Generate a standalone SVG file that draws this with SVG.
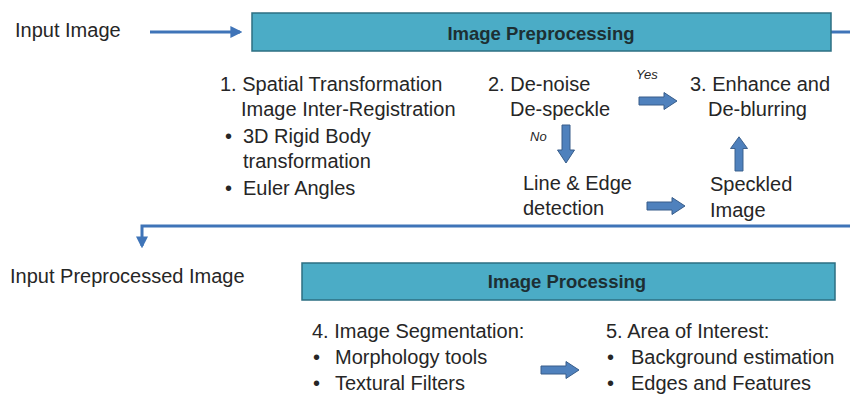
<svg xmlns="http://www.w3.org/2000/svg" width="850" height="398" viewBox="0 0 850 398">
  <defs>
    <style>
      text { font-family: "Liberation Sans", "DejaVu Sans", sans-serif; fill: #262626; }
      .lbl { font-size: 20px; }
      .title { font-size: 18.5px; font-weight: bold; fill: #1d2f33; }
      .small { font-size: 13px; font-style: italic; }
      .stage { fill: #4bacc6; stroke: #2c6f82; stroke-width: 1.5; }
      .flow { fill: none; stroke: #3f74b8; stroke-width: 3; }
      .block { fill: #4f81bd; stroke: #385d8a; stroke-width: 1; }
    </style>
    <marker id="head" viewBox="0 0 10 10" refX="8" refY="5" markerWidth="4" markerHeight="4" orient="auto">
      <path d="M0,0 L10,5 L0,10 Z" fill="#3f74b8"/>
    </marker>
    <!-- thick block arrow pointing right, 38 x 16 -->
    <path id="blockArrow" d="M0,-4 H25 V-8.5 L38,0 L25,8.5 V4 H0 Z"/>
  </defs>

  <rect width="850" height="398" fill="#ffffff"/>

  <!-- connectors -->
  <g id="connectors">
    <path class="flow" d="M150,32 H240" marker-end="url(#head)"/>
    <path class="flow" d="M831,32 H850"/>
    <path class="flow" d="M850,226 H142 V246" marker-end="url(#head)"/>
    <use href="#blockArrow" class="block" transform="translate(639,101)"/>
    <use href="#blockArrow" class="block" transform="translate(566,125) rotate(90)"/>
    <use href="#blockArrow" class="block" transform="translate(647,206)"/>
    <use href="#blockArrow" class="block" transform="translate(739,171) rotate(-90) scale(0.9,1)"/>
    <use href="#blockArrow" class="block" transform="translate(541,370)"/>
    <text class="small" x="636" y="79">Yes</text>
    <text class="small" x="530" y="141">No</text>
  </g>

  <g id="input-image">
    <text class="lbl" x="15" y="37">Input Image</text>
  </g>

  <g id="image-preprocessing">
    <rect class="stage" x="252" y="13" width="579" height="38"/>
    <text class="title" x="541" y="40" text-anchor="middle">Image Preprocessing</text>
  </g>

  <g id="spatial-transformation">
    <text class="lbl" x="220" y="91">1. Spatial Transformation</text>
    <text class="lbl" x="241" y="116">Image Inter-Registration</text>
    <text class="lbl" x="225" y="143">•</text>
    <text class="lbl" x="243" y="143">3D Rigid Body</text>
    <text class="lbl" x="243" y="168">transformation</text>
    <text class="lbl" x="225" y="195">•</text>
    <text class="lbl" x="243" y="195">Euler Angles</text>
  </g>

  <g id="denoise">
    <text class="lbl" x="488" y="91">2. De-noise</text>
    <text class="lbl" x="510" y="116">De-speckle</text>
  </g>

  <g id="enhance">
    <text class="lbl" x="690" y="91">3. Enhance and</text>
    <text class="lbl" x="708" y="116">De-blurring</text>
  </g>

  <g id="line-edge">
    <text class="lbl" x="523" y="190">Line &amp; Edge</text>
    <text class="lbl" x="523" y="215">detection</text>
  </g>

  <g id="speckled-image">
    <text class="lbl" x="710" y="191">Speckled</text>
    <text class="lbl" x="710" y="217">Image</text>
  </g>

  <g id="input-preprocessed">
    <text class="lbl" x="10" y="283">Input Preprocessed Image</text>
  </g>

  <g id="image-processing">
    <rect class="stage" x="302" y="263" width="533" height="37"/>
    <text class="title" x="567" y="288" text-anchor="middle">Image Processing</text>
  </g>

  <g id="segmentation">
    <text class="lbl" x="312" y="338">4. Image Segmentation:</text>
    <text class="lbl" x="313" y="364">•</text>
    <text class="lbl" x="335" y="364">Morphology tools</text>
    <text class="lbl" x="313" y="390">•</text>
    <text class="lbl" x="335" y="390">Textural Filters</text>
  </g>

  <g id="area-of-interest">
    <text class="lbl" x="606" y="338">5. Area of Interest:</text>
    <text class="lbl" x="607" y="364">•</text>
    <text class="lbl" x="631" y="364">Background estimation</text>
    <text class="lbl" x="607" y="390">•</text>
    <text class="lbl" x="631" y="390">Edges and Features</text>
  </g>
</svg>
